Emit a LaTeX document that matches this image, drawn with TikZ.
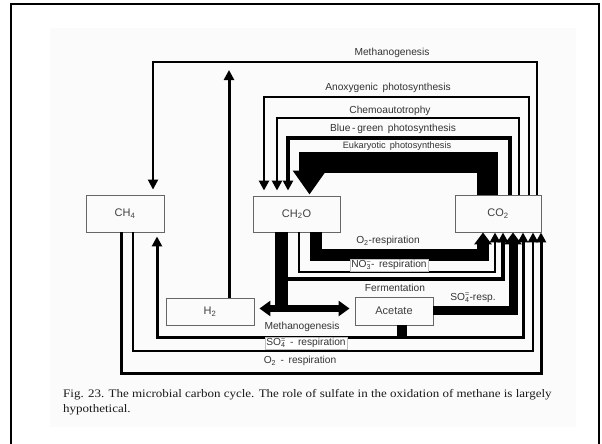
\documentclass[tikz,border=0pt]{standalone}
\usepackage{fontspec}
\setmainfont{Liberation Serif}
\newfontfamily\labfont[WordSpace=1.6]{Liberation Sans}
\newfontfamily\capfont[FakeStretch=1.13]{Liberation Serif}
\usetikzlibrary{arrows.meta}
% stacked sub- and superscript, e.g. SO_4^=
\newcommand\subsup[2]{\rlap{\textsuperscript{#2}}\textsubscript{#1}}

\begin{document}
\begin{tikzpicture}[x=1pt,y=-1pt,
  box/.style={draw=black!60, line width=0.9pt, rectangle, inner sep=0pt,
    font=\labfont\fontsize{11}{13}\selectfont, text=black!75},
  lbl/.style={font=\labfont\fontsize{10.2}{12}\selectfont, text=black!80, inner sep=1pt},
  tag/.style={lbl, fill=white, draw=black!25, line width=0.4pt, inner sep=1.2pt},
  captext/.style={anchor=base west, inner sep=0pt, font=\capfont\fontsize{11.5}{15}\selectfont, text=black!90},
  flow/.style={line width=2.6pt, line join=miter,
    -{Triangle[width=10pt,length=10pt]}},
  bigflow/.style={line join=miter, -{Triangle[width=17pt,length=12pt]}},
]
% page and frame
\useasboundingbox (0,0) rectangle (602,444);
\fill[black!1.5] (50,28) rectangle (576,427);
\draw[line width=2.2pt] (11,444) -- (11,4) -- (599,4) -- (599,444);

% compartments
\node[box, minimum width=78pt, minimum height=37pt] (ch4) at (125,213.5) {CH\textsubscript{4}};
\node[box, minimum width=87pt, minimum height=36pt] (ch2o) at (296.5,214) {CH\textsubscript{2}O};
\node[box, minimum width=86pt, minimum height=37pt] (co2) at (498,213.5) {CO\textsubscript{2}};
\node[box, minimum width=88pt, minimum height=27pt] (h2) at (210,311.5) {H\textsubscript{2}};
\node[box, minimum width=78pt, minimum height=28pt] (acet) at (394,311) {Acetate};

% lane corners
\coordinate (mgA) at (537,62);   \coordinate (mgB) at (153,62);
\coordinate (anA) at (529,97);   \coordinate (anB) at (264,97);
\coordinate (chA) at (519,118);  \coordinate (chB) at (277,118);
\coordinate (bgA) at (510,138);  \coordinate (bgB) at (288,138);
\coordinate (euA) at (487.5,162.5); \coordinate (euB) at (309.5,162.5);
\coordinate (orA) at (316,255);  \coordinate (orB) at (483,255);
\coordinate (noA) at (299,272);  \coordinate (noB) at (495,272);
\coordinate (feA) at (281.5,279); \coordinate (feB) at (503,279);
\coordinate (fstem) at (281.5,312);
\coordinate (dbl) at (0,308.5);
\coordinate (srA) at (0,310.5);  \coordinate (srB) at (513,310.5);
\coordinate (amA) at (402,337);  \coordinate (amL) at (157,337); \coordinate (amR) at (523,337);
\coordinate (msA) at (133,351);  \coordinate (msB) at (533,351);
\coordinate (moA) at (121,373);  \coordinate (moB) at (541,373);
\coordinate (hup) at (229,70);

% CO2 fixation and methanogenesis from CO2
\draw[flow, line width=2pt, shorten >=5pt] (mgA |- co2.north) |- (mgB) -- (mgB |- ch4.north);
\draw[flow, shorten >=5pt] (anA |- co2.north) |- (anB) -- (anB |- ch2o.north);
\draw[flow, shorten >=5pt] (chA |- co2.north) |- (chB) -- (chB |- ch2o.north);
\draw[flow, line width=3.6pt, shorten >=5pt] (bgA |- co2.north) |- (bgB) -- (bgB |- ch2o.north);
\draw[line width=21pt, line join=miter, -{Triangle[width=32pt,length=24pt]}, shorten >=1pt]
  (euA |- co2.north) |- (euB) -- (euB |- ch2o.north);

% respiration of organic matter
\draw[bigflow, line width=12pt] (orA |- ch2o.south) |- (orB) -- (orB |- co2.south);
\draw[flow] (noA |- ch2o.south) |- (noB) -- (noB |- co2.south);

% fermentation
\draw[line width=13pt] (feA |- ch2o.south) -- (fstem);
\draw[flow, line width=4pt] (feA) -- (feB) -- (feB |- co2.south);
\draw[line width=7pt, {Triangle[width=15pt,length=11pt]}-{Triangle[width=15pt,length=11pt]},
  shorten <=5pt, shorten >=5pt] (h2.east |- dbl) -- (acet.west |- dbl);
\draw[flow, line width=3pt] (hup |- h2.north) -- (hup);

% acetate
\draw[bigflow, line width=9pt] (acet.east |- srA) -- (srB) -- (srB |- co2.south);
\draw[line width=10pt] (acet.south -| amA) -- (amA);
\draw[line width=3pt, line join=miter, {Triangle[width=10pt,length=10pt]}-{Triangle[width=10pt,length=10pt]},
  shorten <=4pt] (amL |- ch4.south) -- (amL) -- (amR) -- (amR |- co2.south);

% methane oxidation
\draw[line width=2.6pt, line join=miter, -{Triangle[width=10pt,length=10pt]}]
  (msA |- ch4.south) |- (msB) -- (msB |- co2.south);
\draw[line width=3pt, line join=miter, -{Triangle[width=10pt,length=10pt]}]
  (moA |- ch4.south) |- (moB) -- (moB |- co2.south);

% process labels
\node[lbl] (l1) at (392,53) {Methanogenesis};
\node[lbl] (l2) at (388,88) {Anoxygenic photosynthesis};
\node[lbl] (l3) at (390,110.5) {Chemoautotrophy};
\node[lbl] (l4) at (393,129) {Blue\,-\,green photosynthesis};
\node[lbl, font=\labfont\fontsize{9.2}{10}\selectfont] (l5) at (397,146.5) {Eukaryotic photosynthesis};
\node[lbl] (l6) at (388,241) {O\textsubscript{2}-respiration};
\node[tag] (l7) at (389,265) {NO\subsup{3}{\textminus}- respiration};
\node[lbl] (l8) at (395,288) {Fermentation};
\node[lbl] (l9) at (473,298) {SO\subsup{4}{=}-resp.};
\node[lbl] (l10) at (302,327) {Methanogenesis};
\node[tag] (l11) at (306,343) {SO\subsup{4}{=} - respiration};
\node[lbl] (l12) at (300,361) {O\textsubscript{2} - respiration};

% caption
\node[captext] (cap1) at (63,397) {Fig. 23. The microbial carbon cycle. The role of sulfate in the oxidation of methane is largely};
\node[captext] (cap2) at (63,412) {hypothetical.};
\end{tikzpicture}
\end{document}
